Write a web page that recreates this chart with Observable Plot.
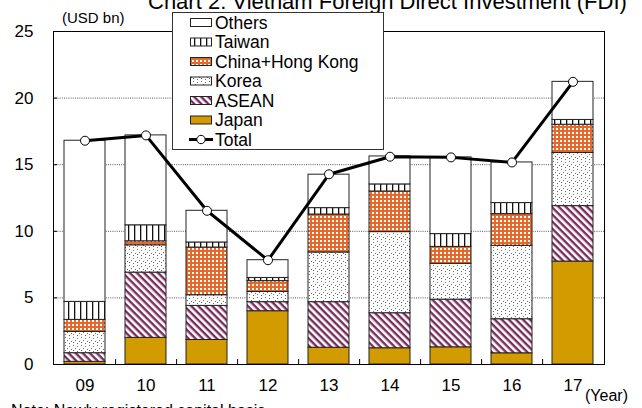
<!DOCTYPE html>
<html><head><meta charset="utf-8">
<script src="https://cdn.jsdelivr.net/npm/d3@7"></script>
<script src="https://cdn.jsdelivr.net/npm/@observablehq/plot@0.6"></script>
<style>
html,body{margin:0;padding:0;background:#fff;}
#wrap{position:relative;width:642px;height:408px;overflow:hidden;font-family:"Liberation Sans",Arial,sans-serif;}
#wrap > svg{position:absolute;left:0;top:0;}
#overlay{pointer-events:none;}
</style></head><body>
<svg width="0" height="0" style="position:absolute">
  <defs>
    <pattern id="p-taiwan" patternUnits="userSpaceOnUse" width="6" height="6">
      <rect width="6" height="6" fill="#fff"/>
      <rect x="2" y="0" width="1.3" height="6" fill="#111"/>
    </pattern>
    <pattern id="p-china" patternUnits="userSpaceOnUse" width="4" height="4">
      <rect width="4" height="4" fill="#e5692a"/>
      <rect x="0" y="0" width="2" height="2" fill="#fff"/>
    </pattern>
    <pattern id="p-korea" patternUnits="userSpaceOnUse" width="8" height="8">
      <rect width="8" height="8" fill="#fff"/>
      <rect x="1" y="1" width="1" height="1" fill="#666"/>
      <rect x="5" y="2" width="1" height="1" fill="#666"/>
      <rect x="3" y="4" width="1" height="1" fill="#666"/>
      <rect x="7" y="5" width="1" height="1" fill="#666"/>
      <rect x="1" y="6" width="1" height="1" fill="#666"/>
      <rect x="5" y="7" width="1" height="1" fill="#666"/>
    </pattern>
    <pattern id="p-asean" patternUnits="userSpaceOnUse" width="10" height="5" patternTransform="rotate(45)">
      <rect width="10" height="5" fill="#fff"/>
      <rect x="0" y="0" width="10" height="2.4" fill="#7a2c5c"/>
    </pattern>
  </defs>
</svg>
<div id="wrap"></div>
<script>
// ---- data ----
const years  = ["09","10","11","12","13","14","15","16","17"];
const series = ["Japan","ASEAN","Korea","China+Hong Kong","Taiwan","Others"];
const japan  = [0.20, 2.00, 1.84, 4.00, 1.26, 1.22, 1.29, 0.84, 7.73];
const asean  = [0.65, 4.90, 2.56, 0.68, 3.42, 2.63, 3.58, 2.56, 4.16];
const korea  = [1.60, 2.05, 0.80, 0.77, 3.73, 6.09, 2.69, 5.51, 3.99];
const china  = [0.90, 0.30, 3.58, 0.81, 2.85, 3.05, 1.27, 2.38, 2.12];
const taiwan = [1.35, 1.20, 0.38, 0.24, 0.48, 0.53, 0.96, 0.83, 0.36];
const others = [12.10, 6.75, 2.38, 1.33, 2.51, 2.10, 5.76, 3.05, 2.86];
const total  = [16.80, 17.20, 11.54, 7.83, 14.28, 15.60, 15.55, 15.17, 21.22];
const yTicks = [0, 5, 10, 15, 20, 25];

// ---- styles ----
const fills = {
  "Japan": "#d29b00",
  "ASEAN": "url(#p-asean)",
  "Korea": "url(#p-korea)",
  "China+Hong Kong": "url(#p-china)",
  "Taiwan": "url(#p-taiwan)",
  "Others": "#ffffff"
};
const values = {"Japan": japan, "ASEAN": asean, "Korea": korea, "China+Hong Kong": china, "Taiwan": taiwan, "Others": others};

const rows = [];
series.forEach(s => years.forEach((yr, i) => rows.push({year: yr, series: s, value: values[s][i]})));
const totals = years.map((yr, i) => ({year: yr, total: total[i]}));

const W = 642, H = 408, ML = 53, MR = 38, MT = 31, MB = 44;
const padIn = 0.33, padOut = 0.165;
const step = (W - ML - MR) / (years.length - padIn + 2 * padOut);
const FONT = "Liberation Sans, Arial, sans-serif";

const chart = Plot.plot({
  width: W, height: H,
  marginLeft: ML, marginRight: MR, marginTop: MT, marginBottom: MB,
  style: {fontFamily: FONT, fontSize: "17px", color: "#000", background: "transparent", overflow: "visible"},
  x: {domain: years, paddingInner: padIn, paddingOuter: padOut, align: 0.5, axis: null, label: null},
  y: {domain: [0, 25], axis: null, label: null},
  color: {type: "identity"},
  marks: [
    Plot.gridY([5, 10, 15, 20], {stroke: "#555", strokeOpacity: 1, strokeDasharray: "1,1.2"}),
    Plot.barY(rows, {x: "year", y: "value", z: "series", fill: d => fills[d.series], stroke: "#222", strokeWidth: 1}),
    Plot.line(totals, {x: "year", y: "total", stroke: "#000", strokeWidth: 3}),
    Plot.dot(totals, {x: "year", y: "total", r: 4.5, fill: "#fff", stroke: "#000", strokeWidth: 1}),
    Plot.frame({stroke: "#000", strokeWidth: 1}),
    Plot.axisY(yTicks, {anchor: "left", label: null, tickSize: 0, tickPadding: 20, fontSize: 17, tickFormat: d => d}),
    Plot.axisY(yTicks, {anchor: "left", label: null, tickSize: 4, dx: 4, tickFormat: () => ""}),
    Plot.axisX(years, {anchor: "bottom", label: null, tickSize: 0, tickPadding: 14, fontSize: 17}),
    Plot.axisX(years.slice(0, -1), {anchor: "bottom", label: null, tickSize: 5, dy: -5, dx: step / 2, tickFormat: () => ""})
  ]
});
document.getElementById("wrap").appendChild(chart);

// ---- overlay: titles and legend ----
const ov = d3.select("#wrap").append("svg").attr("id", "overlay")
  .attr("width", W).attr("height", H).style("font-family", FONT);

ov.append("text").attr("x", 148).attr("y", 9).attr("font-size", 22)
  .text("Chart 2: Vietnam Foreign Direct Investment (FDI)");
ov.append("text").attr("x", 62).attr("y", 23).attr("font-size", 15).text("(USD bn)");
ov.append("text").attr("x", 585).attr("y", 401).attr("font-size", 16).text("(Year)");
ov.append("text").attr("x", 11).attr("y", 416).attr("font-size", 16).text("Note: Newly registered capital basis");

const legendItems = ["Others", "Taiwan", "China+Hong Kong", "Korea", "ASEAN", "Japan", "Total"];
const lg = ov.append("g");
lg.append("rect").attr("x", 172.5).attr("y", 12.5).attr("width", 211).attr("height", 137)
  .attr("fill", "#fff").attr("stroke", "#333").attr("stroke-width", 1);
legendItems.forEach((name, i) => {
  const cy = 22.5 + i * 19.5;
  if (name === "Total") {
    lg.append("line").attr("x1", 189).attr("x2", 213).attr("y1", cy).attr("y2", cy)
      .attr("stroke", "#000").attr("stroke-width", 3);
    lg.append("circle").attr("cx", 201).attr("cy", cy).attr("r", 4.2)
      .attr("fill", "#fff").attr("stroke", "#000");
  } else {
    lg.append("rect").attr("x", 190.5).attr("y", cy - 4).attr("width", 21).attr("height", 8)
      .attr("fill", fills[name]).attr("stroke", "#222").attr("stroke-width", 1);
  }
  lg.append("text").attr("x", 215).attr("y", cy + 6).attr("font-size", 17.5).text(name);
});
</script>
</body></html>
